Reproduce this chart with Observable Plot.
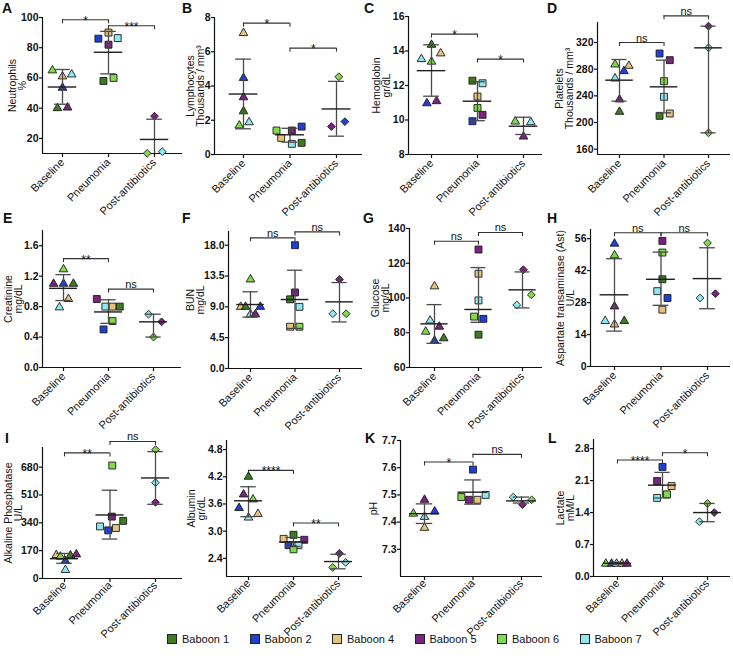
<!DOCTYPE html>
<html><head><meta charset="utf-8">
<script src="https://cdn.jsdelivr.net/npm/d3@7"></script>
<script src="https://cdn.jsdelivr.net/npm/@observablehq/plot@0.6"></script>
<style>
body{margin:0;background:#fff;font-family:"Liberation Sans",Arial,sans-serif;color:#111;}
#root{position:relative;width:733px;height:659px;overflow:hidden;background:#fff;}
.cell{position:absolute;}
.cell svg{overflow:visible;}
.letter{position:absolute;font-weight:bold;font-size:14px;line-height:14px;}
.lg{position:absolute;font-size:11px;line-height:12px;white-space:nowrap;}
.lg span.sw{display:inline-block;width:8px;height:8px;border:1px solid #222;vertical-align:-1px;margin-right:5px;}
g[aria-label="y-axis tick label"] text{font-weight:bold;}
</style></head><body><div id="root"></div><script>
const groups = ["Baseline", "Pneumonia", "Post-antibiotics"];
const baboons = ["Baboon 1", "Baboon 2", "Baboon 4", "Baboon 5", "Baboon 6", "Baboon 7"];
const palette = ["#3e7b22", "#1f3fd6", "#e5c27e", "#7a2380", "#80da4a", "#8fe7ef"];

// rows: [group index, baboon index, value, horizontal offset within group]
const neutrophils = [
  [0,4,65,-0.22],[0,2,61,0],[0,5,62.3,0.2],[0,1,53.5,0],[0,0,40,-0.11],[0,3,40.4,0.11],
  [1,1,86,-0.22],[1,2,90,0],[1,3,82,0],[1,5,86.4,0.2],[1,0,58,-0.11],[1,4,60,0.11],
  [2,3,34.7,0],[2,4,10.1,-0.16],[2,5,11.2,0.17]];
const neutrophilsStats = [[54,42.6,65.6],[77,62.7,90.8],[19.3,5.9,32.7]];
const neutrophilsSig = [[0,1,98.5,"*"],[1,2,94.5,"***"]];

const lymphocytes = [
  [0,2,7.09,0],[0,1,4.47,0],[0,3,3.34,0],[0,0,2.52,0],[0,4,1.69,-0.09],[0,5,1.88,0.12],
  [1,4,1.40,-0.29],[1,2,0.97,-0.19],[1,3,1.40,0.04],[1,1,1.63,0.25],[1,5,0.62,0.04],[1,0,0.68,0.25],
  [2,4,4.54,0.05],[2,3,1.63,-0.11],[2,1,1.92,0.18]];
const lymphocytesStats = [[3.53,1.5,5.57],[1.15,0.72,1.53],[2.66,1.07,4.27]];
const lymphocytesSig = [[0,1,7.67,"*"],[1,2,6.21,"*"]];

const hemoglobin = [
  [0,0,14.36,0],[0,5,13.53,-0.22],[0,4,13.38,0],[0,2,13.86,0.2],[0,1,10.97,-0.1],[0,3,11.09,0.11],
  [1,0,12.28,-0.11],[1,5,12.13,0.11],[1,2,11.36,0],[1,4,10.70,0],[1,3,10.30,0.11],[1,1,9.93,-0.11],
  [2,4,9.91,-0.18],[2,5,9.87,0.16],[2,3,9.04,0]];
const hemoglobinStats = [[12.86,11.38,14.36],[11.09,9.96,12.22],[9.64,9.16,10.16]];
const hemoglobinSig = [[0,1,14.98,"*"],[1,2,13.53,"*"]];

const platelets = [
  [0,4,287,-0.1],[0,2,285,0.21],[0,1,277,0.1],[0,5,266,-0.1],[0,3,234.5,0],[0,0,216,0],
  [1,1,303.5,-0.1],[1,3,293.5,0.13],[1,4,262,0],[1,5,238.5,0],[1,0,210,-0.1],[1,2,213.5,0.13],
  [2,3,344.5,0],[2,5,312,0],[2,4,184.5,0]];
const plateletsStats = [[263.5,232,294.5],[253.5,214.5,293.5],[312,184.5,344.5]];
const plateletsSig = [[0,1,320,"ns"],[1,2,360,"ns"]];

const creatinine = [
  [0,3,1.10,-0.22],[0,1,1.10,0],[0,0,1.10,0.22],[0,4,1.29,0],[0,2,0.90,0.11],[0,5,0.79,-0.09],
  [1,3,0.90,-0.26],[1,5,0.80,-0.07],[1,2,0.80,0.09],[1,0,0.80,0.25],[1,4,0.61,0.09],[1,1,0.50,-0.11],
  [2,5,0.70,-0.11],[2,3,0.60,0.18],[2,4,0.40,0]];
const creatinineStats = [[1.04,0.88,1.22],[0.73,0.58,0.89],[0.60,0.40,0.70]];
const creatinineSig = [[0,1,1.43,"**"],[1,2,1.03,"ns"]];

const bun = [
  [0,4,13.0,0],[0,2,9.0,-0.22],[0,0,9.0,-0.11],[0,1,9.0,0.22],[0,5,7.9,0],[0,3,7.9,0.11],
  [1,1,18.0,0],[1,3,11.1,0],[1,0,10.1,-0.11],[1,5,9.0,0.1],[1,2,6.1,-0.11],[1,4,6.1,0.1],
  [2,3,13.0,0],[2,5,8.0,-0.15],[2,4,8.0,0.15]];
const bunStats = [[9.34,7.5,11.2],[10.07,5.85,14.35],[9.73,6.8,12.55]];
const bunSig = [[0,1,19.07,"ns"],[1,2,19.94,"ns"]];

const glucose = [
  [0,2,106.7,0],[0,5,87.0,-0.1],[0,3,83.5,0.11],[0,4,80.6,-0.2],[0,0,76.8,0.21],[0,1,75.4,0],
  [1,3,127.9,0],[1,2,114,0],[1,5,98.6,0],[1,4,89.3,-0.1],[1,1,88.0,0.11],[1,0,78.9,0],
  [2,3,116.3,0.02],[2,4,101.8,0.2],[2,5,96.0,-0.13]];
const glucoseStats = [[85.1,73.9,96.2],[93.4,86,117.5],[104.7,94.3,115]];
const glucoseSig = [[0,1,132.7,"ns"],[1,2,137.7,"ns"]];

const ast = [
  [0,1,53.8,0],[0,4,48.7,0],[0,3,26.3,0],[0,5,19.9,-0.2],[0,2,18.4,0],[0,0,19.9,0.21],
  [1,3,55,0.03],[1,4,49.9,0.03],[1,0,38.2,0.03],[1,5,33.0,-0.08],[1,1,30.0,0.14],[1,2,24.9,0.03],
  [2,4,54.1,0],[2,3,31.9,0.17],[2,5,30.0,-0.16]];
const astStats = [[31.4,15.5,47.2],[38.2,26.8,50.1],[38.5,25.3,52.0]];
const astSig = [[0,1,58.6,"ns"],[1,2,58.6,"ns"]];

const alp = [
  [0,2,143,-0.18],[0,0,141,0.13],[0,3,147,0.26],[0,4,133,-0.09],[0,1,107,0.02],[0,5,52,0.02],
  [1,4,690,0.05],[1,3,378,0.04],[1,0,352,0.29],[1,5,318,-0.22],[1,2,308,0.13],[1,1,294,-0.04],
  [2,4,787,0],[2,5,585,0],[2,3,465,0]];
const alpStats = [[121,93,153],[388,241,539],[614,453,775]];
const alpSig = [[0,1,767,"**"],[1,2,837,"ns"]];

const albumin = [
  [0,0,4.20,0],[0,3,3.81,-0.11],[0,4,3.70,0.1],[0,1,3.51,-0.21],[0,2,3.38,0.21],[0,5,3.30,0],
  [1,0,2.92,0],[1,2,2.83,-0.22],[1,3,2.81,0.24],[1,1,2.69,-0.11],[1,5,2.69,0.11],[1,4,2.60,0],
  [2,3,2.51,0.02],[2,5,2.31,0.16],[2,4,2.20,-0.13]];
const albuminStats = [[3.67,3.32,3.98],[2.76,2.66,2.86],[2.33,2.17,2.49]];
const albuminSig = [[0,1,4.34,"****"],[1,2,3.18,"**"]];

const ph = [
  [0,3,7.482,0],[0,4,7.431,-0.23],[0,1,7.439,0.21],[0,5,7.419,0],[0,2,7.379,0],
  [1,1,7.593,0],[1,5,7.500,0.26],[1,4,7.492,-0.24],[1,3,7.482,-0.08],[1,2,7.482,0.09],
  [2,5,7.492,-0.17],[2,4,7.482,0.21],[2,3,7.464,0.02]];
const phStats = [[7.431,7.395,7.467],[7.51,7.466,7.555],[7.478,7.47,7.492]];
const phSig = [[0,1,7.621,"*"],[1,2,7.649,"ns"]];

const lactate = [
  [0,4,0.28,-0.26],[0,1,0.28,-0.13],[0,5,0.28,-0.02],[0,2,0.28,0.1],[0,3,0.28,0.21],
  [1,1,2.40,0],[1,3,2.09,-0.12],[1,2,1.98,0.2],[1,4,1.80,0.1],[1,5,1.72,-0.12],
  [2,4,1.60,0],[2,3,1.40,0.15],[2,5,1.20,-0.18]];
const lactateStats = [[0.29,0.27,0.31],[2.0,1.72,2.28],[1.40,1.20,1.60]];
const lactateSig = [[0,1,2.55,"****"],[1,2,2.71,"*"]];

const titles = ["Neutrophils\n%", "Lymphocytes\nThousands / mm³", "Hemoglobin\ngr/dL", "Platelets\nThousands / mm³",
  "Creatinine\nmg/dL", "BUN\nmg/dL", "Glucose\nmg/dL", "Aspartate transaminase (Ast)\nU/L",
  "Alkaline Phosphatase\nU/L", "Albumin\ngr/dL", "pH", "Lactate\nmM/L"];
const letters = ["A","B","C","D","E","F","G","H","I","","K","L"];
const yTicks = [[20,40,60,80,100],[0,2,4,6,8],[8,10,12,14,16],[160,200,240,280,320],
  [0,0.4,0.8,1.2,1.6],[0,4.5,9,13.5,18],[60,80,100,120,140],[0,14,28,42,56],
  [0,170,340,510,680],[2.4,3.0,3.6,4.2,4.8],[7.3,7.4,7.5,7.6,7.7],[0,0.7,1.4,2.1,2.8]];
const yDomains = [[10,100],[0,8],[8,16],[152,350],[0,1.8],[0,20],[60,140],[0,60],[0,800],[2,5],[7.2,7.7],[0,3]];

const datasets = [
  [neutrophils, neutrophilsStats, neutrophilsSig], [lymphocytes, lymphocytesStats, lymphocytesSig],
  [hemoglobin, hemoglobinStats, hemoglobinSig], [platelets, plateletsStats, plateletsSig],
  [creatinine, creatinineStats, creatinineSig], [bun, bunStats, bunSig],
  [glucose, glucoseStats, glucoseSig], [ast, astStats, astSig],
  [alp, alpStats, alpSig], [albumin, albuminStats, albuminSig],
  [ph, phStats, phSig], [lactate, lactateStats, lactateSig]];

// layout (page px): y-axis x, first category x, category step, frame top, frame bottom, title offset, tick format
const layout = [
  {axis:42, x0:62, step:46, top:17, bottom:153, tdx:-24.5, fmt:null},
  {axis:214, x0:243, step:46.5, top:17, bottom:154, tdx:-18.5, fmt:null},
  {axis:408, x0:431, step:46, top:16, bottom:154, tdx:-27, fmt:null, post:"triangle"},
  {axis:597, x0:619, step:44.5, top:22, bottom:154, tdx:-33, fmt:null},
  {axis:42, x0:63, step:45, top:230, bottom:367, tdx:-29, fmt:".1f"},
  {axis:228, x0:250, step:44.5, top:231, bottom:368, tdx:-33, fmt:".1f"},
  {axis:409, x0:434, step:44, top:228, bottom:367, tdx:-29, fmt:null},
  {axis:590, x0:614, step:46.5, top:229, bottom:366, tdx:-24.5, fmt:null},
  {axis:42, x0:64, step:45.5, top:447, bottom:578, tdx:-29, fmt:null},
  {axis:226, x0:248, step:45, top:440, bottom:576, tdx:-30, fmt:".1f"},
  {axis:400, x0:424, step:48.5, top:440, bottom:576, tdx:-27, fmt:".1f"},
  {axis:593, x0:617, step:45, top:439, bottom:576, tdx:-28, fmt:".1f"}];

const root = document.getElementById("root");
const cellX = [0,180,360,545], cellY = [0,200,400];
const letterPos = [[2,1],[182,1],[364,1],[547,1],[3,211],[182,211],[363,211],[547,211],[5,431],[0,0],[365,431],[548,431]];
const FONT = "Liberation Sans, Arial, sans-serif";

layout.forEach((p, k) => {
  const [data, stats, sig] = datasets[k];
  const col = k % 4, row = Math.floor(k / 4);
  const cx = cellX[col], cy = cellY[row];
  const W = col === 3 ? 188 : 185, H = row === 2 ? 225 : 200;
  const xmin = -(p.x0 - p.axis) / p.step;
  const frameRight = Math.min(p.x0 + 2.62 * p.step, cx + W - 3);
  const xmax = (frameRight - p.x0) / p.step;
  const [d0, d1] = yDomains[k];
  const tickLen = 4 * (d1 - d0) / (p.bottom - p.top);
  const fmt = p.fmt ? d3.format(p.fmt) : (d => String(d));
  const symbols = ["triangle", "square", p.post || "diamond2"];
  const radii = {triangle: 3.2, square: 3.9, diamond2: 3.5};
  const st = stats.map((s, i) => ({i, m: s[0], lo: s[1], hi: s[2]}));
  const caps = st.flatMap(s => [{i: s.i, y: s.lo}, {i: s.i, y: s.hi}]);
  const ends = sig.flatMap(d => [{x: d[0], y: d[2]}, {x: d[1], y: d[2]}]);
  const marks = [
    Plot.ruleY([d0], {stroke: "#111", strokeWidth: 1.2}),
    Plot.ruleX([xmin], {stroke: "#111", strokeWidth: 1.2}),
    Plot.axisY(yTicks[k], {tickSize: 3, tickPadding: 1, tickFormat: fmt, fontSize: 10.5, fontWeight: "bold", label: null, strokeWidth: 1.2}),
    Plot.axisX([0,1,2], {tickSize: 4, tickPadding: row === 2 ? 1 : 3, tickRotate: -45, tickFormat: i => groups[i], fontSize: 11, label: null, strokeWidth: 1.2}),
    Plot.text([titles[k]], {text: d => d, frameAnchor: "left", textAnchor: "middle", lineAnchor: "middle", dx: p.tdx, rotate: -90, fontSize: 10.5, lineHeight: 0.98}),
  ];
  for (let g = 0; g < 3; g++) {
    marks.push(Plot.dot(data.filter(d => d[0] === g), {
      x: d => d[0] + d[3], y: d => d[2], symbol: symbols[g], r: radii[symbols[g]],
      fill: d => palette[d[1]], stroke: "#1b1b1b", strokeWidth: 0.9}));
  }
  marks.push(
    Plot.ruleX(st, {x: "i", y1: "lo", y2: "hi", stroke: "#4a4a4a", strokeWidth: 1.3, clip: true}),
    Plot.ruleY(caps, {y: "y", x1: d => d.i - 0.17, x2: d => d.i + 0.17, stroke: "#4a4a4a", strokeWidth: 1.3, clip: true}),
    Plot.ruleY(st, {y: "m", x1: d => d.i - 0.31, x2: d => d.i + 0.31, stroke: "#1e1e1e", strokeWidth: 1.4}),
    Plot.ruleY(sig, {y: d => d[2], x1: d => d[0], x2: d => d[1], stroke: "#333", strokeWidth: 1.1}),
    Plot.ruleX(ends, {x: "x", y1: d => d.y - tickLen, y2: "y", stroke: "#333", strokeWidth: 1.1}),
    Plot.text(sig.filter(d => d[3][0] === "*"), {x: d => (d[0] + d[1]) / 2, y: d => d[2], text: d => d[3], lineAnchor: "bottom", dy: 5, fontSize: 12}),
    Plot.text(sig.filter(d => d[3][0] !== "*"), {x: d => (d[0] + d[1]) / 2, y: d => d[2], text: d => d[3], lineAnchor: "bottom", dy: -1, fontSize: 11})
  );
  const svg = Plot.plot({
    width: W, height: H,
    marginLeft: p.axis - cx, marginRight: cx + W - frameRight,
    marginTop: p.top - cy, marginBottom: cy + H - p.bottom,
    x: {domain: [xmin, xmax], axis: null},
    y: {domain: [d0, d1], axis: null},
    color: {type: "identity"},
    style: {background: "transparent", overflow: "visible", fontFamily: FONT, fontSize: "11px", color: "#111"},
    marks
  });
  const div = document.createElement("div");
  div.className = "cell";
  div.style.left = cx + "px"; div.style.top = cy + "px";
  div.appendChild(svg);
  root.appendChild(div);
  if (letters[k]) {
    const l = document.createElement("div");
    l.className = "letter";
    l.textContent = letters[k];
    l.style.left = letterPos[k][0] + "px"; l.style.top = letterPos[k][1] + "px";
    root.appendChild(l);
  }
});

baboons.forEach((b, i) => {
  const d = document.createElement("div");
  d.className = "lg";
  d.style.left = (167 + i * 82.5) + "px";
  d.style.top = "633px";
  const sw = document.createElement("span");
  sw.className = "sw"; sw.style.background = palette[i];
  d.appendChild(sw);
  d.appendChild(document.createTextNode(b));
  root.appendChild(d);
});
</script></body></html>
